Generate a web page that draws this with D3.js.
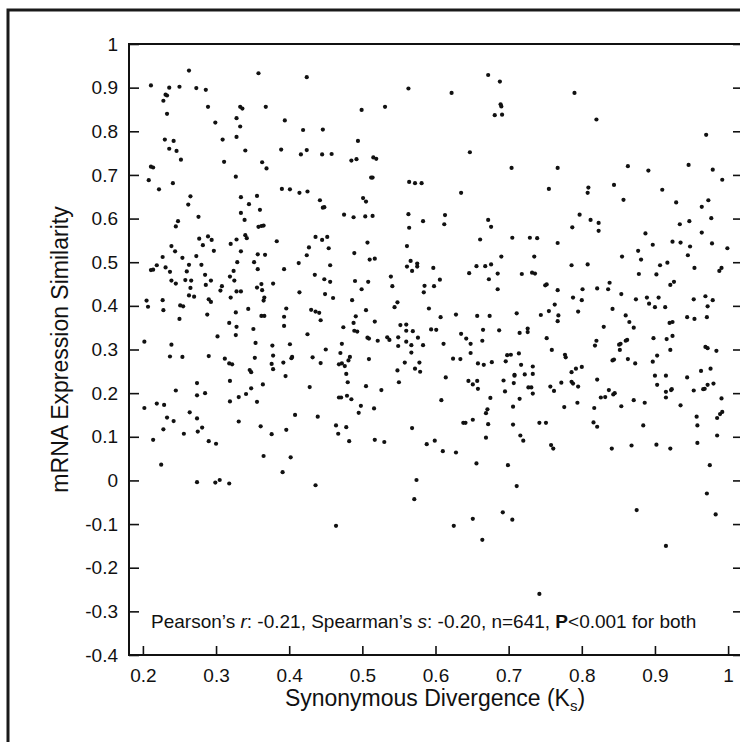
<!DOCTYPE html>
<html>
<head>
<meta charset="utf-8">
<script src="https://cdn.jsdelivr.net/npm/d3@7"></script>
<style>
  body { margin: 0; background: #fff; }
  svg { display: block; }
  text { font-family: "Liberation Sans", Arial, Helvetica, sans-serif; fill: #111; }
</style>
</head>
<body>
<div id="scatter"></div>
<script>
// tick values
var xTicks = [0.2, 0.3, 0.4, 0.5, 0.6, 0.7, 0.8, 0.9, 1];
var yTicks = [1, 0.9, 0.8, 0.7, 0.6, 0.5, 0.4, 0.3, 0.2, 0.1, 0, -0.1, -0.2, -0.3, -0.4];

// [Ks, expression similarity], grouped by region
var upperLeft = [[0.263,0.939],[0.358,0.933],[0.424,0.924],[0.211,0.905],[0.236,0.900],[0.250,0.902],[0.273,0.899],[0.286,0.895],[0.563,0.898],[0.231,0.884],[0.233,0.882],[0.228,0.870],[0.289,0.856],[0.333,0.856],[0.336,0.852],[0.368,0.856],[0.531,0.856],[0.499,0.849],[0.233,0.840],[0.328,0.830],[0.394,0.825],[0.299,0.820],[0.333,0.811],[0.419,0.803],[0.446,0.804],[0.328,0.787],[0.309,0.781],[0.230,0.781],[0.242,0.778],[0.494,0.778],[0.236,0.760],[0.246,0.755],[0.340,0.756],[0.389,0.758],[0.424,0.757],[0.416,0.747],[0.445,0.747],[0.458,0.748],[0.252,0.735],[0.485,0.733],[0.492,0.736],[0.515,0.740],[0.519,0.737],[0.311,0.730],[0.363,0.729],[0.369,0.715],[0.211,0.719],[0.214,0.717],[0.327,0.696],[0.512,0.694],[0.514,0.694],[0.208,0.688],[0.241,0.681],[0.564,0.684],[0.572,0.681],[0.581,0.681],[0.222,0.667],[0.390,0.668],[0.401,0.667],[0.414,0.659],[0.425,0.662],[0.265,0.651],[0.334,0.649],[0.356,0.652],[0.501,0.647],[0.505,0.639],[0.442,0.642],[0.262,0.632],[0.345,0.633],[0.360,0.620],[0.446,0.625],[0.448,0.626],[0.276,0.604],[0.334,0.613],[0.475,0.609],[0.488,0.603],[0.504,0.605],[0.514,0.606],[0.563,0.610],[0.339,0.597],[0.583,0.594],[0.248,0.594],[0.245,0.582],[0.358,0.581],[0.362,0.583],[0.365,0.584],[0.564,0.579],[0.340,0.562],[0.342,0.555],[0.289,0.559],[0.277,0.554],[0.294,0.551],[0.282,0.539],[0.328,0.552],[0.320,0.542],[0.383,0.548],[0.436,0.558],[0.445,0.551],[0.452,0.558],[0.507,0.545],[0.239,0.537],[0.427,0.534],[0.454,0.532],[0.561,0.537],[0.244,0.525],[0.297,0.526],[0.334,0.525],[0.227,0.512],[0.254,0.510],[0.273,0.514],[0.357,0.518],[0.367,0.517],[0.424,0.516],[0.489,0.521],[0.510,0.506],[0.517,0.508],[0.566,0.503],[0.575,0.497],[0.575,0.490],[0.561,0.490],[0.568,0.480],[0.219,0.493],[0.211,0.482],[0.214,0.483],[0.231,0.488],[0.237,0.478],[0.263,0.494],[0.260,0.479],[0.280,0.494],[0.329,0.500],[0.352,0.500],[0.413,0.498],[0.456,0.493],[0.393,0.484],[0.357,0.484],[0.324,0.480],[0.597,0.487],[0.285,0.471],[0.319,0.467],[0.239,0.458],[0.245,0.451],[0.258,0.459],[0.266,0.458],[0.293,0.458],[0.286,0.448],[0.435,0.471],[0.325,0.458],[0.448,0.461],[0.456,0.455],[0.490,0.457],[0.508,0.455],[0.539,0.467],[0.541,0.445],[0.265,0.441],[0.263,0.424],[0.270,0.421],[0.308,0.445],[0.306,0.435],[0.328,0.433],[0.334,0.433],[0.362,0.450],[0.356,0.442],[0.363,0.436],[0.378,0.451],[0.414,0.431],[0.499,0.438],[0.585,0.446],[0.584,0.431],[0.598,0.445],[0.205,0.412],[0.207,0.398],[0.227,0.413],[0.228,0.390],[0.290,0.415],[0.293,0.409],[0.320,0.419],[0.366,0.419],[0.365,0.412],[0.449,0.427],[0.460,0.418],[0.486,0.413],[0.251,0.401],[0.255,0.399],[0.288,0.380],[0.327,0.385],[0.344,0.393],[0.362,0.377],[0.366,0.377],[0.396,0.394],[0.430,0.391],[0.436,0.387],[0.441,0.384],[0.505,0.390],[0.548,0.408],[0.544,0.397],[0.591,0.394],[0.250,0.370],[0.318,0.361],[0.328,0.352],[0.351,0.347],[0.393,0.375],[0.393,0.354],[0.443,0.367],[0.491,0.376],[0.488,0.361],[0.517,0.364],[0.474,0.351],[0.489,0.343],[0.493,0.341],[0.552,0.356],[0.560,0.357],[0.560,0.343],[0.569,0.342],[0.594,0.346],[0.601,0.345],[0.202,0.318],[0.239,0.311],[0.302,0.330],[0.327,0.333],[0.354,0.315],[0.377,0.309],[0.401,0.312],[0.425,0.335],[0.472,0.313],[0.507,0.327],[0.509,0.325],[0.521,0.320],[0.534,0.328],[0.537,0.322],[0.549,0.328],[0.549,0.308],[0.560,0.318],[0.567,0.310],[0.576,0.327],[0.583,0.310],[0.450,0.300],[0.470,0.292],[0.567,0.293]];

var upperRight = [[0.672,0.929],[0.688,0.914],[0.622,0.888],[0.790,0.888],[0.689,0.862],[0.690,0.857],[0.681,0.837],[0.691,0.838],[0.820,0.827],[0.970,0.792],[0.647,0.752],[0.704,0.716],[0.767,0.716],[0.863,0.720],[0.891,0.710],[0.946,0.723],[0.979,0.712],[0.992,0.689],[0.635,0.659],[0.755,0.668],[0.809,0.671],[0.808,0.659],[0.844,0.677],[0.857,0.643],[0.910,0.666],[0.929,0.637],[0.964,0.627],[0.973,0.642],[0.613,0.608],[0.612,0.587],[0.672,0.597],[0.676,0.581],[0.797,0.609],[0.812,0.597],[0.823,0.590],[0.787,0.580],[0.823,0.572],[0.934,0.587],[0.947,0.594],[0.977,0.601],[0.661,0.552],[0.705,0.556],[0.729,0.556],[0.739,0.555],[0.767,0.544],[0.887,0.566],[0.897,0.540],[0.924,0.547],[0.935,0.545],[0.948,0.536],[0.964,0.568],[0.978,0.543],[0.999,0.532],[0.690,0.513],[0.735,0.513],[0.877,0.526],[0.881,0.506],[0.855,0.513],[0.945,0.516],[0.656,0.491],[0.668,0.491],[0.676,0.495],[0.646,0.475],[0.685,0.474],[0.718,0.473],[0.732,0.476],[0.736,0.474],[0.786,0.493],[0.808,0.495],[0.878,0.473],[0.902,0.472],[0.907,0.493],[0.917,0.499],[0.954,0.487],[0.988,0.480],[0.991,0.487],[0.606,0.460],[0.673,0.461],[0.685,0.438],[0.750,0.447],[0.752,0.449],[0.767,0.436],[0.821,0.440],[0.801,0.438],[0.838,0.453],[0.836,0.438],[0.921,0.448],[0.926,0.455],[0.788,0.419],[0.800,0.413],[0.763,0.403],[0.854,0.427],[0.874,0.415],[0.889,0.419],[0.892,0.405],[0.900,0.397],[0.905,0.419],[0.914,0.397],[0.953,0.415],[0.969,0.422],[0.979,0.413],[0.972,0.399],[0.607,0.374],[0.628,0.380],[0.657,0.377],[0.674,0.377],[0.711,0.383],[0.744,0.379],[0.755,0.388],[0.768,0.378],[0.767,0.365],[0.795,0.387],[0.842,0.393],[0.860,0.378],[0.865,0.363],[0.871,0.350],[0.920,0.361],[0.924,0.363],[0.944,0.374],[0.954,0.370],[0.971,0.374],[0.635,0.336],[0.642,0.325],[0.648,0.313],[0.665,0.345],[0.664,0.320],[0.687,0.344],[0.715,0.338],[0.726,0.348],[0.726,0.340],[0.752,0.326],[0.830,0.352],[0.820,0.320],[0.818,0.309],[0.611,0.313],[0.851,0.311],[0.853,0.313],[0.860,0.320],[0.862,0.322],[0.898,0.326],[0.916,0.324],[0.924,0.331],[0.969,0.306],[0.972,0.303]];

var lowerLeft = [[0.237,0.284],[0.254,0.283],[0.290,0.285],[0.312,0.279],[0.318,0.268],[0.322,0.266],[0.353,0.281],[0.346,0.253],[0.348,0.248],[0.378,0.286],[0.376,0.267],[0.378,0.255],[0.392,0.270],[0.403,0.280],[0.404,0.283],[0.395,0.239],[0.432,0.282],[0.443,0.269],[0.468,0.266],[0.472,0.268],[0.476,0.262],[0.481,0.275],[0.483,0.283],[0.478,0.244],[0.480,0.225],[0.509,0.278],[0.558,0.270],[0.578,0.270],[0.548,0.252],[0.572,0.256],[0.579,0.249],[0.550,0.225],[0.274,0.223],[0.319,0.228],[0.364,0.220],[0.245,0.206],[0.274,0.195],[0.285,0.200],[0.341,0.198],[0.348,0.211],[0.331,0.191],[0.319,0.181],[0.356,0.180],[0.428,0.214],[0.505,0.216],[0.526,0.207],[0.468,0.190],[0.471,0.190],[0.479,0.194],[0.485,0.186],[0.498,0.171],[0.495,0.155],[0.516,0.165],[0.202,0.166],[0.219,0.176],[0.229,0.173],[0.233,0.144],[0.242,0.136],[0.264,0.156],[0.274,0.142],[0.228,0.117],[0.256,0.107],[0.275,0.112],[0.281,0.121],[0.290,0.090],[0.300,0.084],[0.214,0.093],[0.225,0.036],[0.331,0.135],[0.361,0.124],[0.376,0.106],[0.396,0.116],[0.408,0.150],[0.439,0.146],[0.464,0.126],[0.467,0.107],[0.478,0.122],[0.482,0.090],[0.517,0.093],[0.530,0.088],[0.568,0.120],[0.588,0.083],[0.599,0.091],[0.365,0.056],[0.402,0.053],[0.391,0.019],[0.274,-0.004],[0.299,-0.005],[0.305,0.001],[0.318,-0.007],[0.436,-0.011],[0.574,0.001],[0.571,-0.043],[0.464,-0.104]];

var lowerRight = [[0.648,0.292],[0.698,0.287],[0.703,0.288],[0.714,0.291],[0.759,0.299],[0.777,0.288],[0.778,0.282],[0.852,0.299],[0.921,0.299],[0.984,0.297],[0.624,0.279],[0.634,0.278],[0.658,0.268],[0.666,0.265],[0.677,0.271],[0.696,0.273],[0.717,0.265],[0.733,0.261],[0.842,0.275],[0.844,0.277],[0.863,0.278],[0.873,0.268],[0.897,0.272],[0.903,0.286],[0.614,0.236],[0.645,0.228],[0.651,0.220],[0.657,0.228],[0.658,0.210],[0.693,0.229],[0.708,0.242],[0.708,0.240],[0.722,0.243],[0.733,0.244],[0.707,0.223],[0.695,0.204],[0.727,0.213],[0.731,0.213],[0.733,0.199],[0.757,0.215],[0.762,0.205],[0.772,0.224],[0.786,0.248],[0.792,0.256],[0.800,0.260],[0.786,0.226],[0.788,0.222],[0.795,0.215],[0.821,0.231],[0.826,0.190],[0.832,0.191],[0.837,0.207],[0.843,0.197],[0.845,0.200],[0.900,0.240],[0.915,0.240],[0.903,0.219],[0.915,0.203],[0.915,0.190],[0.922,0.207],[0.923,0.209],[0.944,0.236],[0.953,0.206],[0.963,0.251],[0.976,0.256],[0.966,0.209],[0.968,0.210],[0.972,0.219],[0.980,0.222],[0.608,0.184],[0.638,0.132],[0.641,0.132],[0.651,0.139],[0.669,0.154],[0.671,0.163],[0.675,0.189],[0.672,0.129],[0.669,0.098],[0.706,0.169],[0.715,0.187],[0.706,0.128],[0.716,0.103],[0.720,0.091],[0.742,0.132],[0.751,0.132],[0.758,0.081],[0.761,0.073],[0.776,0.168],[0.794,0.178],[0.817,0.166],[0.816,0.133],[0.821,0.123],[0.841,0.073],[0.854,0.170],[0.871,0.184],[0.886,0.178],[0.884,0.126],[0.868,0.080],[0.902,0.082],[0.921,0.073],[0.935,0.172],[0.957,0.146],[0.958,0.126],[0.958,0.086],[0.985,0.103],[0.985,0.143],[0.989,0.152],[0.992,0.157],[0.991,0.188],[0.610,0.067],[0.628,0.064],[0.656,0.039],[0.699,0.035],[0.711,-0.013],[0.625,-0.104],[0.651,-0.088],[0.664,-0.136],[0.692,-0.073],[0.705,-0.090],[0.742,-0.260],[0.875,-0.068],[0.915,-0.150],[0.971,-0.030],[0.975,0.035],[0.983,-0.078]];

var svgWidth = 740;
var svgHeight = 742;
var margin = { top: 44, right: -2, bottom: 87, left: 129 };
var width = svgWidth - margin.left - margin.right;
var height = svgHeight - margin.top - margin.bottom;

var svg = d3.select("#scatter")
  .append("svg")
  .attr("width", svgWidth)
  .attr("height", svgHeight);

// outer frame (only top and left edges fall inside the picture)
svg.append("path")
  .attr("d", "M8,750V10H750")
  .attr("fill", "none")
  .attr("stroke", "#1a1a1a")
  .attr("stroke-width", 3);

var chartGroup = svg.append("g")
  .attr("transform", `translate(${margin.left}, ${margin.top})`);

var xScale = d3.scaleLinear().domain([0.181, 1.019]).range([0, width]);
var yScale = d3.scaleLinear().domain([-0.4, 1]).range([height, 0]);

var fmt = d => String(d);

// axes, ticks pointing inward
var bottomAxis = d3.axisBottom(xScale).tickValues(xTicks).tickFormat(fmt)
  .tickSizeInner(-9).tickSizeOuter(0).tickPadding(14);
var leftAxis = d3.axisLeft(yScale).tickValues(yTicks).tickFormat(fmt)
  .tickSizeInner(-10).tickSizeOuter(0).tickPadding(11);
var rightAxis = d3.axisRight(yScale).tickValues(yTicks).tickFormat("")
  .tickSizeInner(-9).tickSizeOuter(0);

var gx = chartGroup.append("g").attr("transform", `translate(0, ${height})`).call(bottomAxis);
var gy = chartGroup.append("g").call(leftAxis);
var gr = chartGroup.append("g").attr("transform", `translate(${width}, 0)`).call(rightAxis);

[gx, gy, gr].forEach(function (g) {
  g.select(".domain").remove();
  g.selectAll(".tick line").attr("stroke", "#111").attr("stroke-width", 1.6);
  g.selectAll(".tick text").attr("font-size", "19px").attr("fill", "#111")
    .attr("font-family", "'Liberation Sans', Arial, sans-serif");
});

// plot box
chartGroup.append("rect")
  .attr("x", 0).attr("y", 0)
  .attr("width", width).attr("height", height)
  .attr("fill", "none")
  .attr("stroke", "#111")
  .attr("stroke-width", 2);

// points
var allPoints = upperLeft.concat(upperRight, lowerLeft, lowerRight);
chartGroup.selectAll("circle")
  .data(allPoints)
  .enter()
  .append("circle")
  .attr("cx", d => xScale(d[0]))
  .attr("cy", d => yScale(d[1]))
  .attr("r", 2.1)
  .attr("fill", "#111");

// statistics note
var note = chartGroup.append("text")
  .attr("x", 22)
  .attr("y", 584)
  .attr("font-size", "19px");
note.append("tspan").text("Pearson\u2019s ");
note.append("tspan").attr("font-style", "italic").text("r");
note.append("tspan").text(": -0.21, Spearman\u2019s ");
note.append("tspan").attr("font-style", "italic").text("s");
note.append("tspan").text(": -0.20, n=641, ");
note.append("tspan").attr("font-weight", "bold").text("P");
note.append("tspan").text("<0.001 for both");

// axis labels
var xLabel = chartGroup.append("text")
  .attr("x", 306)
  .attr("y", height + 51)
  .attr("text-anchor", "middle")
  .attr("font-size", "23px");
xLabel.append("tspan").text("Synonymous Divergence (K");
xLabel.append("tspan").attr("font-size", "15px").attr("dy", 5).text("s");
xLabel.append("tspan").attr("dy", -5).text(")");

chartGroup.append("text")
  .attr("transform", "rotate(-90)")
  .attr("x", -height / 2)
  .attr("y", -61)
  .attr("text-anchor", "middle")
  .attr("font-size", "23px")
  .text("mRNA Expression Similarity");
</script>
</body>
</html>
